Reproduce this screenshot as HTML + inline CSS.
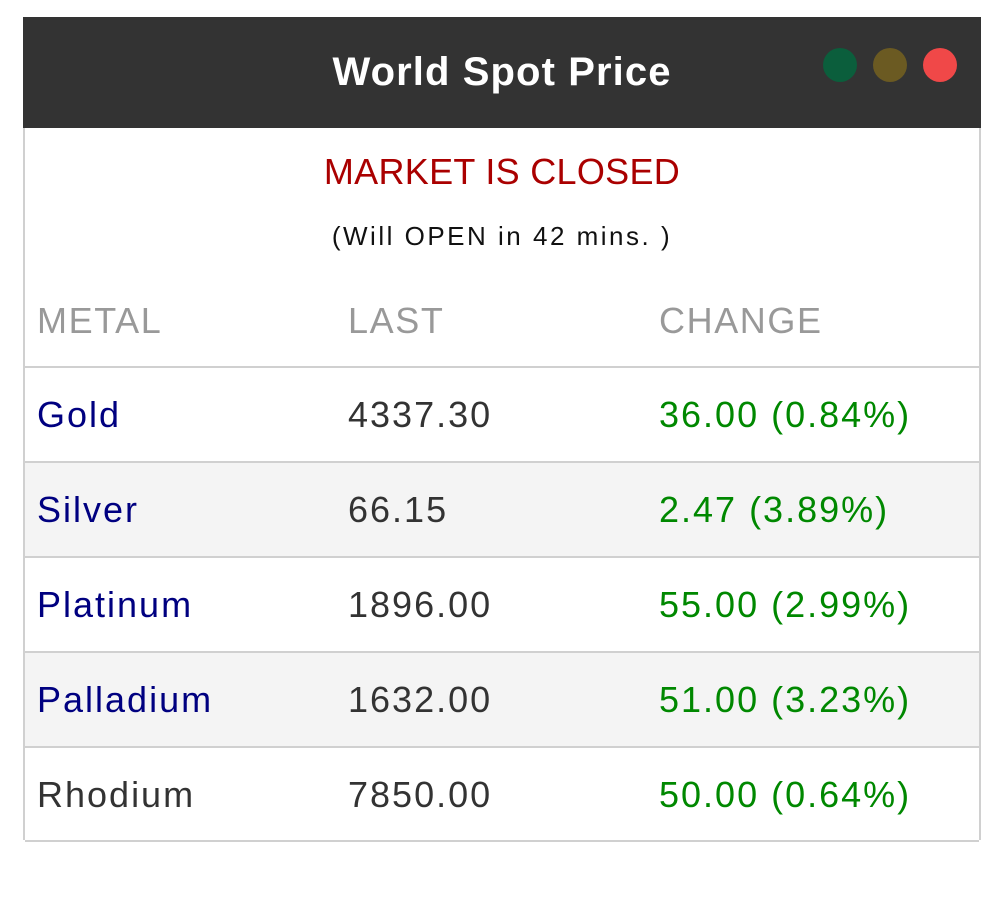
<!DOCTYPE html>
<html><head><meta charset="utf-8"><style>
body{margin:0;background:#fff;width:1005px;height:900px;overflow:hidden;font-family:"Liberation Sans",sans-serif;}
.box{position:absolute;left:23px;top:17px;width:954px;height:823px;border:2px solid #d0d0d0;border-top:none;border-bottom:none;}
.hdr{position:absolute;left:-2px;top:0;width:958px;height:111px;background:#333;}
.title{position:absolute;left:0;width:958px;top:30px;text-align:center;color:#fff;font-weight:bold;font-size:40px;line-height:50px;letter-spacing:1.1px;}
.dot{position:absolute;top:31px;width:34px;height:34px;border-radius:50%;}
.abs{position:absolute;white-space:nowrap;}
.row{position:absolute;left:0;width:954px;height:93px;border-top:2px solid #d0d0d0;}
.row span{position:absolute;top:22px;font-size:36px;line-height:50px;letter-spacing:2px;}
.n{left:12px;color:#000080}.l{left:323px;color:#333}.c{left:634px;color:#080}
</style></head><body>
<div class="box">
<div class="hdr"><div class="title">World Spot Price</div>
<div class="dot" style="left:800px;background:#0b5e3c"></div>
<div class="dot" style="left:850px;background:#6b5a22"></div>
<div class="dot" style="left:900px;background:#f04848"></div></div>
<div class="abs" style="left:0;width:954px;top:130px;text-align:center;color:#a00;font-size:36px;line-height:50px;letter-spacing:0.3px">MARKET IS CLOSED</div>
<div class="abs" style="left:0;width:954px;top:202px;text-align:center;color:#111;font-size:26px;line-height:34px;letter-spacing:2.5px">(Will OPEN in 42 mins. )</div>
<div class="abs" style="left:12px;top:279px;color:#999;font-size:36px;line-height:50px;letter-spacing:1.6px">METAL</div>
<div class="abs" style="left:323px;top:279px;color:#999;font-size:36px;line-height:50px;letter-spacing:1.6px">LAST</div>
<div class="abs" style="left:634px;top:279px;color:#999;font-size:36px;line-height:50px;letter-spacing:1.6px">CHANGE</div>
<div class="row" style="top:349px"><span class="n">Gold</span><span class="l">4337.30</span><span class="c">36.00 (0.84%)</span></div>
<div class="row" style="top:444px;background:#f4f4f4"><span class="n">Silver</span><span class="l">66.15</span><span class="c">2.47 (3.89%)</span></div>
<div class="row" style="top:539px"><span class="n">Platinum</span><span class="l">1896.00</span><span class="c">55.00 (2.99%)</span></div>
<div class="row" style="top:634px;background:#f4f4f4"><span class="n">Palladium</span><span class="l">1632.00</span><span class="c">51.00 (3.23%)</span></div>
<div class="row" style="top:729px;border-bottom:2px solid #d0d0d0;height:92px"><span class="n" style="color:#333">Rhodium</span><span class="l">7850.00</span><span class="c">50.00 (0.64%)</span></div>
</div>
</body></html>
